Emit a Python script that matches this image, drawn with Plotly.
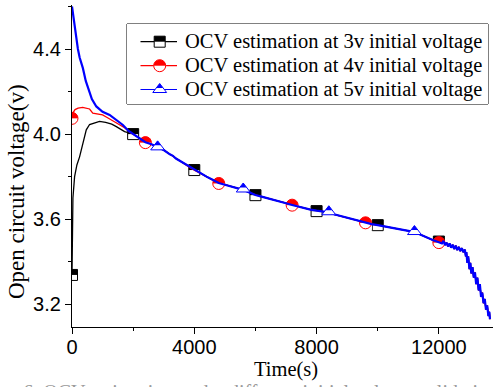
import plotly.graph_objects as go

# ---------------- data ----------------
black_head_t = [0, 10, 30, 85, 160, 248, 370, 467, 575, 700, 900, 1100, 1300, 1450, 1720, 1900]
black_head_v = [3.34, 3.62, 3.70, 3.80, 3.855, 3.893, 3.965, 4.02, 4.045, 4.052, 4.06, 4.055, 4.047, 4.035, 4.012, 4.005]

red_head_t = [0, 30, 100, 200, 350, 500, 575, 680, 800, 1000, 1150, 1300, 1450, 1720, 1900]
red_head_v = [4.074, 4.10, 4.115, 4.122, 4.126, 4.122, 4.118, 4.098, 4.095, 4.09, 4.078, 4.066, 4.05, 4.03, 4.008]

blue_head_t = [0, 30, 60, 100, 150, 193, 250, 356, 450, 553, 650, 795, 1000, 1230, 1450, 1665, 1850]
blue_head_v = [4.60, 4.568, 4.53, 4.49, 4.44, 4.40, 4.36, 4.31, 4.25, 4.20, 4.165, 4.13, 4.105, 4.09, 4.065, 4.043, 4.015]

common_t = [2000, 2200, 2400, 2600, 2800, 3000, 3200, 3300, 3400, 3600, 3800, 4000, 4200, 4400,
            4600, 4800, 5000, 5200, 5400, 5600, 5800, 6000, 6200, 6400, 6600, 6800, 7000, 7200,
            7400, 7600, 7800, 8000, 8200, 8400, 8600, 8800, 9000, 9200, 9400, 9600, 9800, 10000,
            10200, 10400, 10600, 10800, 11000, 11200, 11400, 11600, 11800, 12000]
common_v = [4.000, 3.982, 3.962, 3.952, 3.940, 3.925, 3.905, 3.898, 3.885, 3.868, 3.848, 3.830, 3.814, 3.800,
            3.785, 3.770, 3.762, 3.755, 3.746, 3.738, 3.726, 3.714, 3.706, 3.699, 3.692, 3.684, 3.675, 3.667,
            3.659, 3.652, 3.645, 3.640, 3.636, 3.632, 3.622, 3.614, 3.606, 3.600, 3.592, 3.584, 3.577, 3.572,
            3.566, 3.561, 3.555, 3.550, 3.545, 3.540, 3.527, 3.512, 3.502, 3.492]

tail_t = [12100, 12150, 12200, 12250, 12300, 12350, 12400, 12450, 12500, 12550, 12600, 12650, 12700,
          12750, 12800, 12850, 12880, 12900, 12930, 12960, 13000, 13030, 13060, 13100, 13140, 13180,
          13220, 13260, 13300, 13340, 13380, 13420, 13460, 13500, 13540, 13580, 13620, 13650, 13670]
tail_v = [3.486, 3.498, 3.478, 3.490, 3.472, 3.486, 3.466, 3.480, 3.460, 3.476, 3.455, 3.470, 3.450,
          3.464, 3.445, 3.457, 3.425, 3.445, 3.395, 3.425, 3.365, 3.395, 3.345, 3.375, 3.325, 3.350,
          3.295, 3.325, 3.265, 3.295, 3.235, 3.255, 3.205, 3.225, 3.175, 3.195, 3.145, 3.165, 3.13]

black_mark_t = [0, 2000, 4000, 6000, 8000, 10000, 12000]
black_mark_v = [3.338, 4.000, 3.831, 3.713, 3.638, 3.572, 3.495]
red_mark_t = [0, 2400, 4800, 7200, 9600, 12000]
red_mark_v = [4.074, 3.960, 3.768, 3.666, 3.583, 3.490]
blue_mark_t = [2800, 5600, 8400, 11200]
blue_mark_v = [3.940, 3.742, 3.635, 3.542]

legend_labels = ["OCV estimation at 3v initial voltage",
                 "OCV estimation at 4v initial voltage",
                 "OCV estimation at 5v initial voltage"]

x_title = "Time(s)"
y_title = "Open circuit voltage(v)"
caption = "Figure 6. OCV estimation under different initial voltage validation"

# ---------------- layout constants ----------------
W, H = 493, 387
ML, MR, MT, MB = 72, 0, 5, 60
XR = [0, 13770]
YR = [3.0933, 4.6068]
PW, PH = W - ML - MR, H - MT - MB
DXPP = (XR[1] - XR[0]) / PW
DYPP = (YR[1] - YR[0]) / PH

BLACK, RED, BLUE = "#000000", "#ff0000", "#0000ff"
SERIF = "Liberation Serif"
SANS = "Liberation Sans"

fig = go.Figure()


def marks(xs, ys, kind, color, dxpp, dy_up, xa="x", ya="y"):
    def tr(x, y, **m):
        fig.add_trace(go.Scatter(x=x, y=y, mode="markers", xaxis=xa, yaxis=ya,
                                 showlegend=False, hoverinfo="skip", marker=m))
    if kind == "square":
        s = 11
        tr(xs, ys, symbol="square", size=s, color="white", line=dict(color=color, width=1))
        tr(xs, [y + dy_up * s / 4 for y in ys], symbol="line-ew", size=s / 1.4,
           color=color, line=dict(color=color, width=s / 2))
    elif kind == "circle":
        s = 12
        tr(xs, ys, symbol="circle", size=s, color=color, line=dict(width=0))
        tr(xs, [y - dy_up * (s + 2) / 4 for y in ys], symbol="line-ew", size=(s + 1) / 1.4,
           color="white", line=dict(color="white", width=s / 2 + 1))
        tr(xs, ys, symbol="circle-open", size=s, color=color, line=dict(color=color, width=1))
    else:
        s = 12
        tr(xs, ys, symbol="triangle-up", size=s, color="white", line=dict(color=color, width=1))
        tr(xs, [y + dy_up * s / 4 for y in ys], symbol="triangle-up", size=s / 2,
           color=color, line=dict(width=0))


def line(t, v, color, width, xa="x", ya="y"):
    fig.add_trace(go.Scatter(x=t, y=v, mode="lines", xaxis=xa, yaxis=ya, showlegend=False,
                             hoverinfo="skip", line=dict(color=color, width=width)))


series = [
    (black_head_t, black_head_v, black_mark_t, black_mark_v, "square", BLACK, 1.3),
    (red_head_t, red_head_v, red_mark_t, red_mark_v, "circle", RED, 1.3),
    (blue_head_t, blue_head_v, blue_mark_t, blue_mark_v, "triangle", BLUE, 2.2),
]
for ht, hv, mt, mv, kind, col, lw in series:
    line(ht + common_t + tail_t, hv + common_v + tail_v, col, lw)
    marks(mt, mv, kind, col, DXPP, DYPP)

# ---------------- custom legend ----------------
BOX = dict(l=127, r=488, t=24, b=104)
lx0 = (BOX["l"] - ML) / PW
lx1 = (BOX["r"] - ML) / PW
ly1 = 1 - (BOX["t"] - MT) / PH
ly0 = 1 - (BOX["b"] - MT) / PH
bw, bh = BOX["r"] - BOX["l"], BOX["b"] - BOX["t"]
rows = [17.7, 41.7, 65.5]
fig.add_shape(type="rect", xref="paper", yref="paper", x0=lx0, x1=lx1, y0=ly0, y1=ly1,
              line=dict(color="black", width=1), fillcolor="white", layer="below")
for (ht, hv, mt, mv, kind, col, lw), ry, lab in zip(series, rows, legend_labels):
    line([13.5, 50], [ry, ry], col, 1.2, "x2", "y2")
    marks([32.7], [ry], kind, col, 1, -1, "x2", "y2")
    fig.add_annotation(x=56, y=ry, xref="x2", yref="y2", text=lab, showarrow=False,
                       xanchor="left", yanchor="middle",
                       font=dict(family=SERIF, size=20.5, color="black"))

# ---------------- titles ----------------
fig.add_annotation(x=(286 - ML) / PW, y=1 - (369.5 - MT) / PH, xref="paper", yref="paper",
                   text=x_title, showarrow=False, xanchor="center", yanchor="middle",
                   font=dict(family=SERIF, size=20.5, color="black"))
fig.add_annotation(x=(16 - ML) / PW, y=1 - (192 - MT) / PH, xref="paper", yref="paper",
                   text=y_title, showarrow=False, textangle=-90, xanchor="center", yanchor="middle",
                   font=dict(family=SERIF, size=23, color="black"))
fig.add_annotation(x=(232 - ML) / PW, y=1 - (379 - MT) / PH, xref="paper", yref="paper",
                   text=caption, showarrow=False, xanchor="center", yanchor="top",
                   font=dict(family=SERIF, size=20, color="#9a9a9a"))

axis_common = dict(showline=True, linecolor="black", linewidth=1.3, ticks="outside", ticklen=6,
                   tickwidth=1.3, tickcolor="black", showgrid=False, zeroline=False,
                   automargin=False, fixedrange=True,
                   tickfont=dict(family=SANS, size=20, color="black"))

fig.update_layout(
    template="none",
    width=W, height=H,
    margin=dict(l=ML, r=MR, t=MT, b=MB, pad=0),
    paper_bgcolor="white", plot_bgcolor="white",
    showlegend=False,
    xaxis=dict(range=XR, tick0=0, dtick=4000, tickformat="d", ticklabelstandoff=-4,
               minor=dict(dtick=2000, ticks="outside", ticklen=3, tickwidth=1.3, tickcolor="black"),
               **axis_common),
    yaxis=dict(range=YR, tick0=3.2, dtick=0.4, tickformat=".1f",
               minor=dict(dtick=0.2, ticks="outside", ticklen=3, tickwidth=1.3, tickcolor="black"),
               **axis_common),
    xaxis2=dict(domain=[lx0, lx1], range=[0, bw], visible=False, anchor="y2", fixedrange=True),
    yaxis2=dict(domain=[ly0, ly1], range=[bh, 0], visible=False, anchor="x2", fixedrange=True),
)

fig.write_html("out.html")
